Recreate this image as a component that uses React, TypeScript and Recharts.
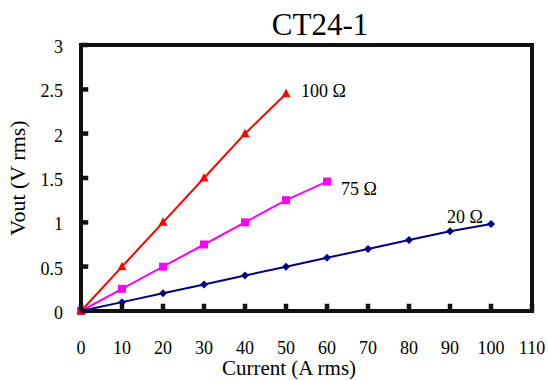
import React from 'react';
import { LineChart, Line, XAxis, YAxis, LabelList, ReferenceArea, Label } from 'recharts';

const currents = [0, 10, 20, 30, 40, 50, 60, 70, 80, 90, 100];
const vout100 = [0, 0.5, 1.0, 1.5, 2.0, 2.45];
const vout75 = [0, 0.25, 0.5, 0.75, 1.0, 1.25, 1.46];
const vout20 = [0, 0.1, 0.2, 0.3, 0.4, 0.5, 0.6, 0.7, 0.8, 0.9, 0.98];
const xTicks = [0, 10, 20, 30, 40, 50, 60, 70, 80, 90, 100, 110];
const yTicks = [0, 0.5, 1, 1.5, 2, 2.5, 3];
const seriesLabels = ['100 Ω', '75 Ω', '20 Ω'];
const titleText = 'CT24-1';
const xAxisTitle = 'Current (A rms)';
const yAxisTitle = 'Vout (V rms)';

const toData = (vals: number[]) => vals.map((v, k) => ({ i: currents[k], v }));
const data100 = toData(vout100);
const data75 = toData(vout75);
const data20 = toData(vout20);

const FONT = 'Liberation Serif';
const INK = '#000000';
const LINE_INK = '#111111';
const FW = 4;

const renderXTick = (props: any) => {
  const { x, y, payload } = props;
  return (
    <g>
      <rect x={x - 2} y={y - 7} width={4} height={7} fill={LINE_INK} stroke={LINE_INK} strokeWidth={0.5} />
      <text x={x} y={y + 43} textAnchor="middle" fontFamily={FONT} fontSize={18} fill={INK}>
        {payload.value}
      </text>
    </g>
  );
};

const renderYTick = (props: any) => {
  const { x, y, payload } = props;
  return (
    <g>
      <rect x={x} y={y - 2} width={7} height={4} fill={LINE_INK} stroke={LINE_INK} strokeWidth={0.5} />
      <text x={x - 18} y={y + 8} textAnchor="end" fontFamily={FONT} fontSize={18} fill={INK}>
        {payload.value}
      </text>
    </g>
  );
};

const Frame = (props: any) => {
  const { x, y, width, height } = props;
  if (x == null || y == null) return null;
  return (
    <rect x={x} y={y} width={width} height={height} fill="none" stroke={LINE_INK} strokeWidth={FW} />
  );
};

const Triangle = (props: any) => {
  const { cx, cy } = props;
  if (cx == null || cy == null) return null;
  return <polygon points={`${cx},${cy - 5} ${cx - 4.5},${cy + 3.5} ${cx + 4.5},${cy + 3.5}`} fill="#FF0000" />;
};
const Square = (props: any) => {
  const { cx, cy } = props;
  if (cx == null || cy == null) return null;
  return <rect x={cx - 4} y={cy - 4} width={8} height={8} fill="#FF00FF" />;
};
const Diamond = (props: any) => {
  const { cx, cy } = props;
  if (cx == null || cy == null) return null;
  return <polygon points={`${cx},${cy - 4} ${cx + 4},${cy} ${cx},${cy + 4} ${cx - 4},${cy}`} fill="#000080" />;
};

const makeEndLabel = (text: string, lastIndex: number, dx: number, dy: number, anchor: string) => (props: any) => {
  const { x, y, index } = props;
  if (index !== lastIndex) return null;
  return (
    <text x={x + dx} y={y + dy} textAnchor={anchor} fontFamily={FONT} fontSize={18} fill={INK}>
      {text}
    </text>
  );
};

const xTitle = (props: any) => {
  const vb = props.viewBox || {};
  return (
    <text x={289} y={(vb.y ?? 311) + 64} textAnchor="middle" fontFamily={FONT} fontSize={21} fill={INK}>
      {xAxisTitle}
    </text>
  );
};

const yTitle = () => (
  <text x={25} y={178} transform="rotate(-90 25 178)" textAnchor="middle" fontFamily={FONT} fontSize={22} fill={INK}>
    {yAxisTitle}
  </text>
);

const chartTitle = () => (
  <text x={320} y={35} textAnchor="middle" fontFamily={FONT} fontSize={31} fill={INK}>
    {titleText}
  </text>
);

export default function App() {
  return (
    <div style={{ position: 'absolute', left: 0, top: 0 }}>
      <LineChart width={548} height={380} margin={{ top: 45, right: 16, left: 0, bottom: 0 }}>
        <XAxis dataKey="i" type="number" domain={[0, 110]} ticks={xTicks} interval={0}
          height={69} tickSize={0} tickMargin={0} tick={renderXTick} axisLine={false} stroke={LINE_INK}>
          <Label content={xTitle} />
        </XAxis>
        <YAxis type="number" domain={[0, 3]} ticks={yTicks} interval={0} width={81}
          tickSize={0} tickMargin={0} tick={renderYTick} axisLine={false} stroke={LINE_INK}>
          <Label content={yTitle} />
        </YAxis>
        <ReferenceArea x1={0} x2={110} y1={0} y2={3} shape={<Frame />} ifOverflow="visible"
          fill="#ffffff" fillOpacity={0} stroke={LINE_INK} strokeWidth={FW}>
          <Label content={chartTitle} />
        </ReferenceArea>
        <Line data={data20} dataKey="v" stroke="#000080" strokeWidth={2}
          dot={<Diamond />} activeDot={false} isAnimationActive={false}>
          <LabelList dataKey="v" content={makeEndLabel(seriesLabels[2], vout20.length - 1, -8, -1, 'end')} />
        </Line>
        <Line data={data75} dataKey="v" stroke="#FF00FF" strokeWidth={2}
          dot={<Square />} activeDot={false} isAnimationActive={false}>
          <LabelList dataKey="v" content={makeEndLabel(seriesLabels[1], vout75.length - 1, 14, 13, 'start')} />
        </Line>
        <Line data={data100} dataKey="v" stroke="#FF0000" strokeWidth={2}
          dot={<Triangle />} activeDot={false} isAnimationActive={false}>
          <LabelList dataKey="v" content={makeEndLabel(seriesLabels[0], vout100.length - 1, 15, 3, 'start')} />
        </Line>
      </LineChart>
    </div>
  );
}
